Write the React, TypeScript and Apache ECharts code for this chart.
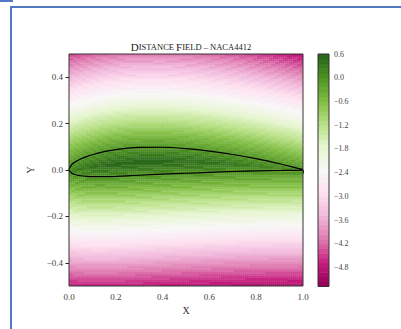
import React, { useEffect, useRef } from "react";
import * as echarts from "echarts";

// NACA 4412 section coordinates (chord-normalised)
const X_STATIONS = [0, 0.0125, 0.025, 0.05, 0.075, 0.1, 0.15, 0.2, 0.25, 0.3, 0.4, 0.5, 0.6, 0.7, 0.8, 0.9, 0.95, 1.0];
const Y_UPPER = [0, 0.0244, 0.0339, 0.0473, 0.0576, 0.0659, 0.0789, 0.088, 0.0941, 0.0976, 0.098, 0.0919, 0.0814, 0.0669, 0.0489, 0.0271, 0.0147, 0.0013];
const Y_LOWER = [0, -0.0143, -0.0195, -0.0249, -0.0274, -0.0286, -0.0288, -0.0274, -0.025, -0.0226, -0.018, -0.014, -0.01, -0.0065, -0.0039, -0.0022, -0.0016, -0.0013];

// axes / colorbar
const X_TICKS = [0, 0.2, 0.4, 0.6, 0.8, 1.0];
const Y_TICKS = [-0.4, -0.2, 0, 0.2, 0.4];
const CBAR_TICKS = [0.6, 0.0, -0.6, -1.2, -1.8, -2.4, -3.0, -3.6, -4.2, -4.8];
const LEVEL_MIN = -5.28;
const LEVEL_MAX = 0.6;
const LEVEL_STEP = 0.12;
const FIELD_SCALE = 10; // field value = scale * signed distance (positive inside)
const PIYG = ["#8e0152", "#c51b7d", "#de77ae", "#f1b6da", "#fde0ef", "#f7f7f7", "#e6f5d0", "#b8e186", "#7fbc41", "#4d9221", "#276419"];

const NX = 117;
const NY = 116;
const DX = 1 / NX;
const DY = 1 / NY;

function outline(): number[][] {
  const pts: number[][] = [];
  for (let i = X_STATIONS.length - 1; i >= 0; i--) pts.push([X_STATIONS[i], Y_UPPER[i]]);
  for (let i = 1; i < X_STATIONS.length; i++) pts.push([X_STATIONS[i], Y_LOWER[i]]);
  return pts;
}

function segDist(px: number, py: number, ax: number, ay: number, bx: number, by: number) {
  const vx = bx - ax, vy = by - ay;
  const l2 = vx * vx + vy * vy;
  let t = l2 > 0 ? ((px - ax) * vx + (py - ay) * vy) / l2 : 0;
  t = Math.max(0, Math.min(1, t));
  const cx = ax + t * vx - px, cy = ay + t * vy - py;
  return Math.sqrt(cx * cx + cy * cy);
}

function buildField(poly: number[][]) {
  const n = poly.length;
  const nLevels = Math.round((LEVEL_MAX - LEVEL_MIN) / LEVEL_STEP);
  const lv: number[] = [];
  const xs: number[] = [];
  const ys: number[] = [];
  for (let j = 0; j < NY; j++) {
    const y = -0.5 + (j + 0.5) * DY;
    for (let i = 0; i < NX; i++) {
      const x = (i + 0.5) * DX;
      let d = Infinity;
      let inside = false;
      for (let k = 0; k < n; k++) {
        const a = poly[k], b = poly[(k + 1) % n];
        const dd = segDist(x, y, a[0], a[1], b[0], b[1]);
        if (dd < d) d = dd;
        if ((a[1] > y) !== (b[1] > y)) {
          const xi = a[0] + ((y - a[1]) * (b[0] - a[0])) / (b[1] - a[1]);
          if (x < xi) inside = !inside;
        }
      }
      const v = FIELD_SCALE * (inside ? d : -d);
      let lvl = Math.floor((v - LEVEL_MIN) / LEVEL_STEP);
      lvl = Math.max(0, Math.min(nLevels - 1, lvl));
      lv.push(lvl);
      xs.push(x);
      ys.push(y);
    }
  }
  const out: number[][] = [];
  for (let j = 0; j < NY; j++) {
    for (let i = 0; i < NX; i++) {
      const idx = j * NX + i;
      const l = lv[idx];
      let edge = 0;
      if (j + 1 < NY && lv[idx + NX] !== l) edge = 1;
      out.push([xs[idx], ys[idx], LEVEL_MIN + (l + 0.5) * LEVEL_STEP, edge]);
    }
  }
  return out;
}

const fmt = (v: number) => {
  const s = Math.abs(v) < 1e-9 ? "0.0" : v.toFixed(1);
  return s.replace("-", "\u2212");
};

export default function App() {
  const ref = useRef<HTMLDivElement>(null);
  useEffect(() => {
    if (!ref.current) return;
    const chart = echarts.init(ref.current, undefined, { renderer: "svg" });
    const poly = outline();
    const field = buildField(poly);
    const nLevels = Math.round((LEVEL_MAX - LEVEL_MIN) / LEVEL_STEP);
    const bands: number[][] = [];
    for (let k = 0; k < nLevels; k++) {
      const c = LEVEL_MIN + (k + 0.5) * LEVEL_STEP;
      bands.push([0.5, c, c]);
    }
    const airfoilLine = poly.concat([poly[0]]);
    const font = "'Liberation Serif', 'DejaVu Serif', serif";

    chart.setOption({
      animation: false,
      backgroundColor: "#ffffff",
      title: {
        left: 186,
        top: 36,
        textAlign: "center",
        text: "{b|D}{s|ISTANCE }{b|F}{s|IELD \u2013 NACA4412}",
        textStyle: {
          fontWeight: "normal",
          rich: {
            b: { fontFamily: font, fontSize: 11, color: "#222", fontWeight: "normal" },
            s: { fontFamily: font, fontSize: 8.5, color: "#222", fontWeight: "normal" },
          },
        },
      },
      visualMap: {
        show: false,
        type: "continuous",
        min: LEVEL_MIN,
        max: LEVEL_MAX,
        dimension: 2,
        seriesIndex: [0, 2],
        inRange: { color: PIYG },
      },
      grid: [
        { left: 69, top: 54, width: 234, height: 232, show: true, borderColor: "#333", borderWidth: 1, backgroundColor: "transparent", z: 5 },
        { left: 318, top: 54, width: 11, height: 232.5, show: true, borderColor: "#333", borderWidth: 1, backgroundColor: "transparent", z: 5 },
      ],
      xAxis: [
        {
          gridIndex: 0, type: "value", min: 0, max: 1, interval: 0.2,
          name: "X", nameLocation: "middle", nameGap: 15,
          nameTextStyle: { fontFamily: font, fontSize: 10, color: "#333" },
          axisLine: { show: false },
          axisTick: { show: true, length: 3.5, lineStyle: { color: "#222" }, customValues: X_TICKS },
          axisLabel: { customValues: X_TICKS, formatter: fmt, fontFamily: font, fontSize: 9, color: "#444", margin: 6 },
          splitLine: { show: false },
        },
        { gridIndex: 1, type: "value", min: 0, max: 1, show: false },
      ],
      yAxis: [
        {
          gridIndex: 0, type: "value", min: -0.5, max: 0.5,
          name: "Y", nameLocation: "middle", nameGap: 31, nameRotate: 90,
          nameTextStyle: { fontFamily: font, fontSize: 10, color: "#333" },
          axisLine: { show: false },
          axisTick: { show: true, length: 3.5, lineStyle: { color: "#222" }, customValues: Y_TICKS },
          axisLabel: { customValues: Y_TICKS, formatter: fmt, fontFamily: font, fontSize: 9, color: "#444", margin: 6 },
          splitLine: { show: false },
        },
        {
          gridIndex: 1, type: "value", min: LEVEL_MIN, max: LEVEL_MAX, position: "right",
          axisLine: { show: false },
          axisTick: { show: true, length: 3, lineStyle: { color: "#222" }, customValues: CBAR_TICKS },
          axisLabel: { customValues: CBAR_TICKS, formatter: fmt, fontFamily: font, fontSize: 8, color: "#444", margin: 5 },
          splitLine: { show: false },
        },
      ],
      series: [
        {
          type: "custom",
          xAxisIndex: 0,
          yAxisIndex: 0,
          data: field,
          encode: { x: 0, y: 1 },
          clip: true,
          progressive: 0,
          silent: true,
          renderItem: (_p: any, api: any) => {
            const x = api.value(0), y = api.value(1);
            const a = api.coord([x - DX / 2, y + DY / 2]);
            const b = api.coord([x + DX / 2, y - DY / 2]);
            const edge = api.value(3) === 1;
            return {
              type: "rect",
              shape: { x: a[0], y: a[1], width: b[0] - a[0] + 0.6, height: b[1] - a[1] + 0.6 },
              style: { fill: api.visual("color"), opacity: edge ? 0.86 : 1 },
            };
          },
        },
        {
          type: "line",
          xAxisIndex: 0,
          yAxisIndex: 0,
          data: airfoilLine,
          showSymbol: false,
          smooth: 0.2,
          silent: true,
          z: 4,
          lineStyle: { color: "#000", width: 1.2 },
        },
        {
          type: "custom",
          xAxisIndex: 1,
          yAxisIndex: 1,
          data: bands,
          encode: { x: 0, y: 1 },
          silent: true,
          renderItem: (_p: any, api: any) => {
            const c = api.value(1);
            const a = api.coord([0, c + LEVEL_STEP / 2]);
            const b = api.coord([1, c - LEVEL_STEP / 2]);
            return {
              type: "rect",
              shape: { x: a[0], y: a[1], width: b[0] - a[0], height: b[1] - a[1] + 0.5 },
              style: { fill: api.visual("color") },
            };
          },
        },
      ],
      graphic: [
        { type: "line", shape: { x1: 10, y1: 7, x2: 401, y2: 7 }, style: { stroke: "#5079c2", lineWidth: 2 } },
        { type: "line", shape: { x1: 11, y1: 6, x2: 11, y2: 329 }, style: { stroke: "#5079c2", lineWidth: 2 } },
        { type: "line", shape: { x1: 0, y1: 1, x2: 13, y2: 1 }, style: { stroke: "#5079c2", lineWidth: 2 } },
      ],
    });
    return () => chart.dispose();
  }, []);
  return <div ref={ref} style={{ position: "fixed", left: 0, top: 0, width: 401, height: 329 }} />;
}
